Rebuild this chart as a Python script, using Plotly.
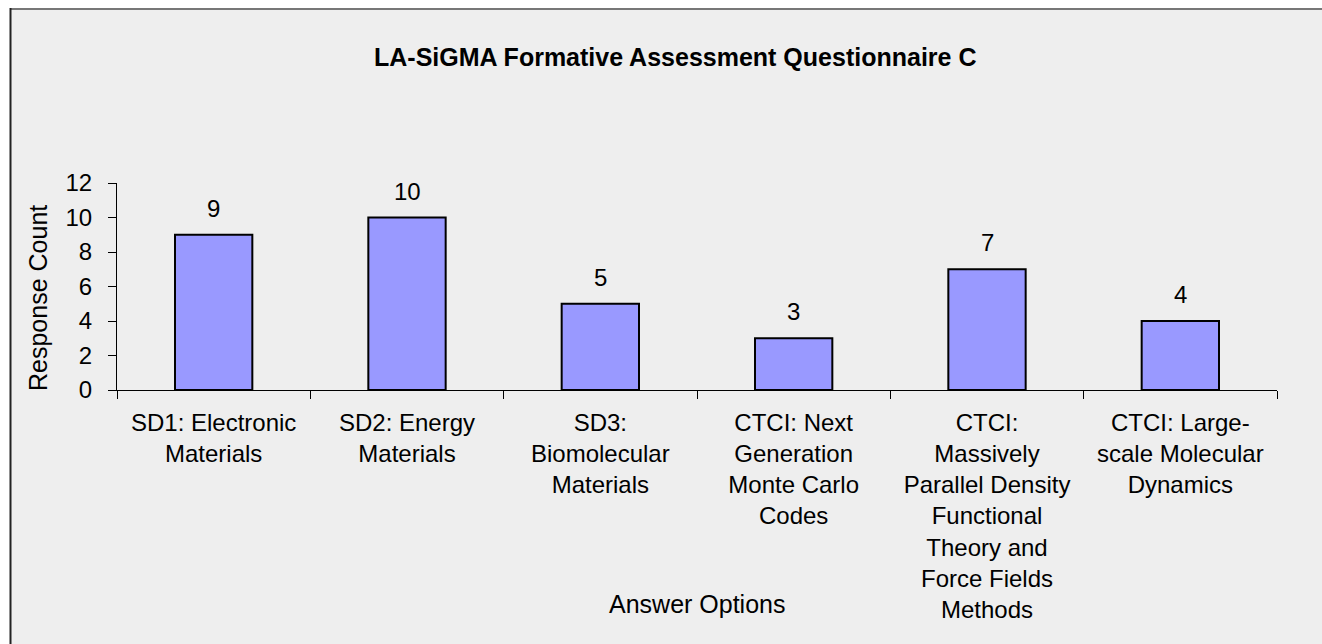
import plotly.graph_objects as go

categories = [
    "SD1: Electronic<br>Materials",
    "SD2: Energy<br>Materials",
    "SD3:<br>Biomolecular<br>Materials",
    "CTCI: Next<br>Generation<br>Monte Carlo<br>Codes",
    "CTCI:<br>Massively<br>Parallel Density<br>Functional<br>Theory and<br>Force Fields<br>Methods",
    "CTCI: Large-<br>scale Molecular<br>Dynamics",
]
counts = [9, 10, 5, 3, 7, 4]
y_ticks = [0, 2, 4, 6, 8, 10, 12]

title_text = "LA-SiGMA Formative Assessment Questionnaire C"
y_title = "Response Count"
x_title = "Answer Options"

W, H = 1322, 644
L, R, T, B = 117, 45, 183, 254
pw, ph = W - L - R, H - T - B

def px_x(p):
    return (p - L) / pw

def px_y(p):
    return (H - B - p) / ph

FONT = "Liberation Sans, Arial, sans-serif"

fig = go.Figure()
fig.add_trace(go.Bar(
    x=categories, y=counts,
    marker=dict(color="#9999FF", line=dict(color="black", width=2)),
    width=0.4,
    hoverinfo="x+y",
))

annotations = []
for c, v in zip(categories, counts):
    annotations.append(dict(
        x=c, y=v, xref="x", yref="y", text=str(v), showarrow=False,
        yanchor="bottom", yshift=11, font=dict(size=24, color="black", family=FONT),
    ))
annotations.append(dict(
    x=px_x(38), y=px_y(298), xref="paper", yref="paper", text=y_title,
    textangle=-90, showarrow=False, xanchor="center", yanchor="middle",
    font=dict(size=25, color="black", family=FONT),
))
annotations.append(dict(
    x=0.5, y=px_y(604), xref="paper", yref="paper", text=x_title,
    showarrow=False, xanchor="center", yanchor="middle",
    font=dict(size=25, color="black", family=FONT),
))
annotations.append(dict(
    x=px_x(675), y=px_y(57), xref="paper", yref="paper", text="<b>" + title_text + "</b>",
    showarrow=False, xanchor="center", yanchor="middle",
    font=dict(size=25, color="black", family=FONT),
))

shapes = [
    # white strips outside the chart frame (top and left)
    dict(
        type="rect", xref="paper", yref="paper", layer="below",
        x0=px_x(0), x1=px_x(1322), y0=px_y(8), y1=px_y(0),
        fillcolor="white", line=dict(width=0),
    ),
    dict(
        type="rect", xref="paper", yref="paper", layer="below",
        x0=px_x(0), x1=px_x(10), y0=px_y(644), y1=px_y(0),
        fillcolor="white", line=dict(width=0),
    ),
    dict(
        type="line", xref="paper", yref="paper", layer="below",
        x0=px_x(10), x1=px_x(1322), y0=px_y(9), y1=px_y(9),
        line=dict(color="#777777", width=2),
    ),
    dict(
        type="line", xref="paper", yref="paper", layer="below",
        x0=px_x(10.5), x1=px_x(10.5), y0=px_y(644), y1=px_y(8),
        line=dict(color="#222222", width=2),
    ),
]

fig.update_layout(
    width=W, height=H,
    margin=dict(l=L, r=R, t=T, b=B, autoexpand=False),
    paper_bgcolor="#EEEEEE",
    plot_bgcolor="rgba(0,0,0,0)",
    showlegend=False,
    bargap=0.6,
    font=dict(family=FONT, size=24, color="black"),
    annotations=annotations,
    shapes=shapes,
)
fig.update_xaxes(
    showline=True, linecolor="black", linewidth=1,
    ticks="outside", ticklen=8, tickcolor="black", tickson="boundaries",
    showgrid=False, tickangle=0, ticklabelstandoff=11,
    tickfont=dict(size=24, color="black", family=FONT),
)
fig.update_yaxes(
    range=[0, 12], tickvals=y_ticks, showline=True, linecolor="black", linewidth=1,
    ticks="outside", ticklen=8, tickcolor="black", showgrid=False, zeroline=False,
    ticklabelstandoff=11,
    tickfont=dict(size=24, color="black", family=FONT),
)

fig.write_html(
    "out.html",
    config={"displayModeBar": False},
    post_script=(
        "document.documentElement.style.overflow='hidden';"
        "document.body.style.margin='0';document.body.style.overflow='hidden';"
    ),
)
